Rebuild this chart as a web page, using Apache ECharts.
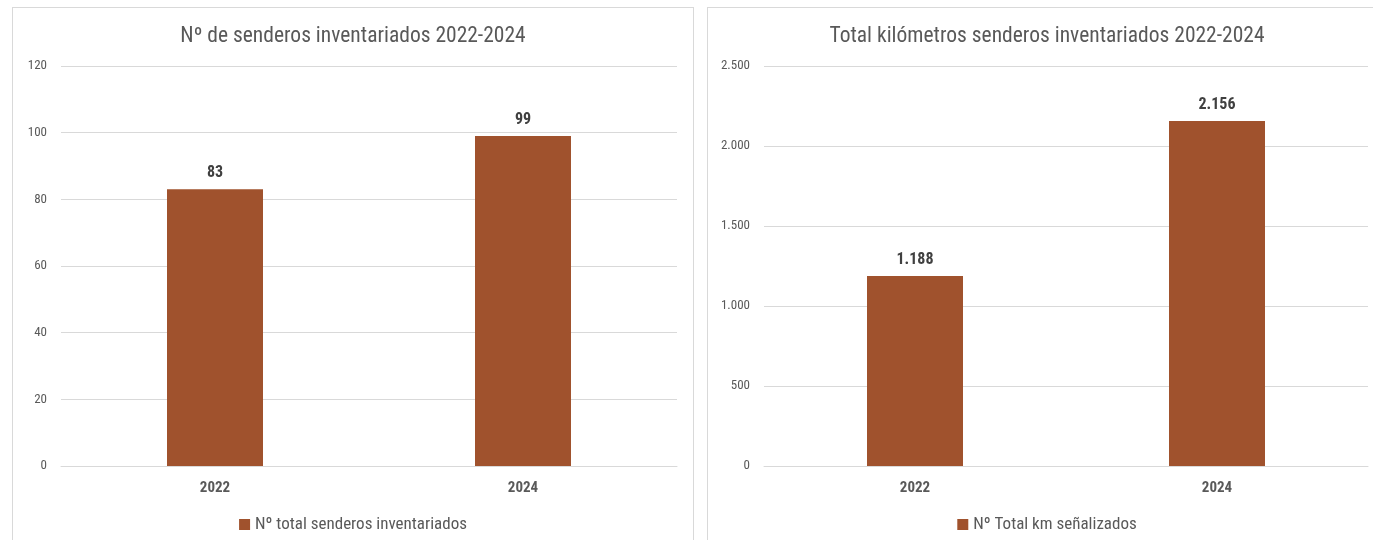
<!DOCTYPE html>
<html>
<head>
<meta charset="utf-8">
<script src="https://cdn.jsdelivr.net/npm/echarts@6/dist/echarts.min.js"></script>
<style>
  html, body { margin: 0; padding: 0; background: #ffffff; width: 1373px; height: 540px; overflow: hidden; }
  .panel { position: absolute; top: 7px; height: 540px; border: 1px solid #d9d9d9; border-bottom: none; box-sizing: border-box; background: #fff; }
  #c1 { left: 12px; width: 682px; }
  #c2 { left: 707px; width: 680px; }
</style>
</head>
<body>
<div id="c1" class="panel"></div>
<div id="c2" class="panel"></div>
<script>
const categories = ['2022', '2024'];
const senderosValues = [83, 99];
const kmValues = [1188, 2156];
const senderosTicks = { min: 0, max: 120, interval: 20 };
const kmTicks = { min: 0, max: 2500, interval: 500 };
const title1 = 'Nº de senderos inventariados 2022-2024';
const title2 = 'Total kilómetros senderos inventariados 2022-2024';
const series1Name = 'Nº total senderos inventariados';
const series2Name = 'Nº Total km señalizados';

const FONT = '"Liberation Sans Narrow", "Arial Narrow", "Roboto Condensed", Roboto, sans-serif';
const BAR_COLOR = '#A0522D';

function fmt(v) {
  return String(Math.round(v)).replace(/\B(?=(\d{3})+(?!\d))/g, '.');
}

function makeOption(title, name, values, ticks, gridLeft, gridWidth) {
  return {
    animation: false,
    textStyle: { fontFamily: FONT },
    title: {
      text: title, left: 'center', top: 13,
      textStyle: { fontFamily: FONT, fontSize: 21.5, fontWeight: 'normal', color: '#595959' }
    },
    legend: {
      data: [name], left: 'center', top: 503, icon: 'rect', itemWidth: 11, itemHeight: 11, itemGap: 6,
      textStyle: { fontFamily: FONT, fontSize: 17, color: '#595959' }
    },
    grid: { left: gridLeft, width: gridWidth, top: 58, height: 400, containLabel: false },
    xAxis: {
      type: 'category', data: categories,
      axisLine: { lineStyle: { color: '#d9d9d9', width: 1 } },
      axisTick: { show: false },
      axisLabel: { fontFamily: FONT, fontSize: 15, fontWeight: 'bold', color: '#595959', margin: 15 }
    },
    yAxis: {
      type: 'value', min: ticks.min, max: ticks.max, interval: ticks.interval,
      axisLine: { show: false }, axisTick: { show: false },
      splitLine: { lineStyle: { color: '#d9d9d9', width: 1 } },
      axisLabel: { fontFamily: FONT, fontSize: 13, color: '#595959', margin: 14, formatter: fmt }
    },
    series: [{
      name: name, type: 'bar', data: values, barWidth: 96,
      itemStyle: { color: BAR_COLOR },
      label: {
        show: true, position: 'top', distance: 8,
        fontFamily: FONT, fontSize: 16, fontWeight: 'bold', color: '#404040',
        formatter: p => fmt(p.value)
      }
    }]
  };
}

const ch1 = echarts.init(document.getElementById('c1'));
ch1.setOption(makeOption(title1, series1Name, senderosValues, senderosTicks, 48, 616));
const ch2 = echarts.init(document.getElementById('c2'));
ch2.setOption(makeOption(title2, series2Name, kmValues, kmTicks, 56, 604));
</script>
</body>
</html>
